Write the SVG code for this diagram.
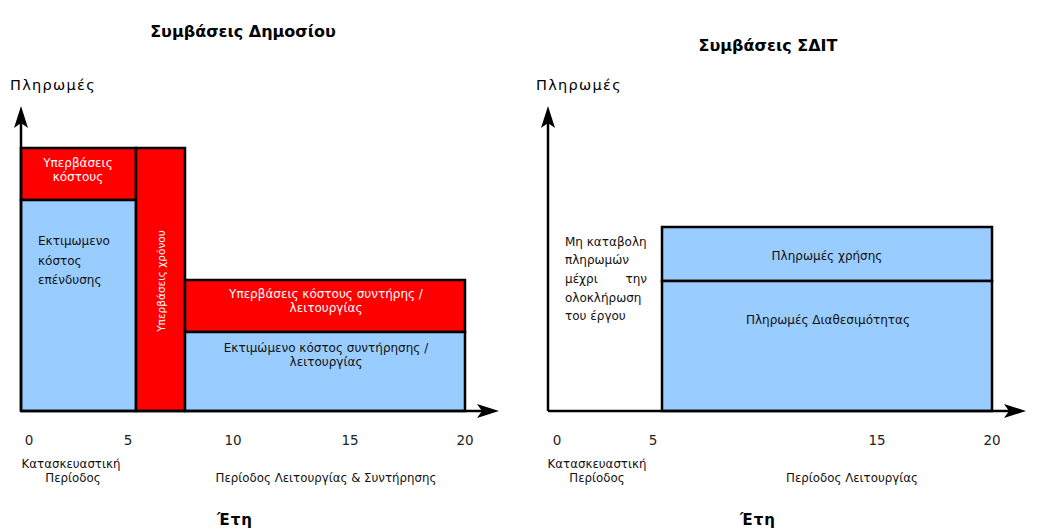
<svg xmlns="http://www.w3.org/2000/svg" width="1039" height="529" viewBox="0 0 1039 529">
<style>
text{font-family:"DejaVu Sans","Liberation Sans",sans-serif;}
.title{font-size:16px;font-weight:bold;fill:#000;text-anchor:middle;}
.ylab{font-size:14.5px;fill:#000;letter-spacing:1.3px;}
.tick{font-size:13.5px;fill:#222;text-anchor:middle;}
.per{font-size:11.8px;fill:#111;text-anchor:middle;}
.eti{font-size:15px;font-weight:bold;fill:#000;text-anchor:middle;letter-spacing:1px;}
.red{fill:#FF0000;stroke:#000;stroke-width:2.5;}
.blue{fill:#99CCFF;stroke:#000;stroke-width:2.5;}
.wt{font-size:12px;fill:#fff;text-anchor:middle;}
.vt{font-size:10.5px;fill:#fff;text-anchor:middle;}
.dt{font-size:12px;fill:#111;text-anchor:middle;}
.dl{font-size:12px;fill:#111;}
.axis{stroke:#000;stroke-width:2.5;fill:none;}
.head{fill:#000;}
</style>

<g id="left-title">
<text class="title" x="243" y="37">Συμβάσεις Δημοσίου</text>
<text class="ylab" x="10" y="90">Πληρωμές</text>
</g>

<g id="cost-overrun">
<rect class="red" x="21" y="148" width="115" height="52"/>
<text class="wt" x="78" y="167">Υπερβάσεις</text>
<text class="wt" x="78" y="181">κόστους</text>
</g>

<g id="investment-cost">
<rect class="blue" x="21" y="200" width="115" height="211"/>
<text class="dl" x="38" y="245">Εκτιμωμενο</text>
<text class="dl" x="38" y="265">κόστος</text>
<text class="dl" x="38" y="284">επένδυσης</text>
</g>

<g id="time-overrun">
<rect class="red" x="136" y="148" width="49" height="263"/>
<text class="vt" x="0" y="0" transform="translate(165,281) rotate(-90)">Υπερβάσεις χρόνου</text>
</g>

<g id="om-overrun">
<rect class="red" x="185" y="280" width="280" height="52"/>
<text class="wt" x="326" y="298">Υπερβάσεις κόστους συντήρης /</text>
<text class="wt" x="326" y="312">λειτουργίας</text>
</g>

<g id="om-cost">
<rect class="blue" x="185" y="332" width="280" height="79"/>
<text class="dt" x="326" y="352">Εκτιμώμενο κόστος συντήρησης /</text>
<text class="dt" x="326" y="366">λειτουργίας</text>
</g>

<g id="left-axis-labels">
<text class="tick" x="29" y="445">0</text>
<text class="tick" x="128" y="445">5</text>
<text class="tick" x="233" y="445">10</text>
<text class="tick" x="350" y="445">15</text>
<text class="tick" x="465" y="445">20</text>
<text class="per" x="71" y="468">Κατασκευαστική</text>
<text class="per" x="73" y="482">Περίοδος</text>
<text class="per" x="326" y="482">Περίοδος Λειτουργίας &amp; Συντήρησης</text>
<text class="eti" x="235" y="525">Έτη</text>
</g>

<g id="right-title">
<text class="title" x="768" y="51">Συμβάσεις ΣΔΙΤ</text>
<text class="ylab" x="536" y="90">Πληρωμές</text>
</g>

<g id="no-payment">
<text class="dl" x="565" y="246">Μη καταβολη</text>
<text class="dl" x="565" y="264">πληρωμών</text>
<text class="dl" x="565" y="283">μέχρι</text>
<text class="dl" x="647" y="283" text-anchor="end">την</text>
<text class="dl" x="565" y="302">ολοκλήρωση</text>
<text class="dl" x="565" y="320">του έργου</text>
</g>

<g id="usage-payments">
<rect class="blue" x="662" y="227" width="330" height="54"/>
<text class="dt" x="827" y="260">Πληρωμές χρήσης</text>
</g>

<g id="availability-payments">
<rect class="blue" x="662" y="281" width="330" height="130"/>
<text class="dt" x="828" y="324">Πληρωμές Διαθεσιμότητας</text>
</g>

<g id="right-axis-labels">
<text class="tick" x="557" y="445">0</text>
<text class="tick" x="653" y="445">5</text>
<text class="tick" x="877" y="445">15</text>
<text class="tick" x="992" y="445">20</text>
<text class="per" x="597" y="468">Κατασκευαστική</text>
<text class="per" x="597" y="482">Περίοδος</text>
<text class="per" x="852" y="482">Περίοδος Λειτουργίας</text>
<text class="eti" x="758" y="525">Έτη</text>
</g>

<g id="connectors">
<line class="axis" x1="21" y1="411" x2="21" y2="122"/>
<path class="head" d="M21,106 L28,128 L21,123 L14,128 Z"/>
<line class="axis" x1="21" y1="411" x2="484" y2="411"/>
<path class="head" d="M499,411 L477,404 L482,411 L477,418 Z"/>
<line class="axis" x1="548" y1="411" x2="548" y2="122"/>
<path class="head" d="M548,106 L555,128 L548,123 L541,128 Z"/>
<line class="axis" x1="548" y1="411" x2="1011" y2="411"/>
<path class="head" d="M1026,411 L1004,404 L1009,411 L1004,418 Z"/>
</g>
</svg>
